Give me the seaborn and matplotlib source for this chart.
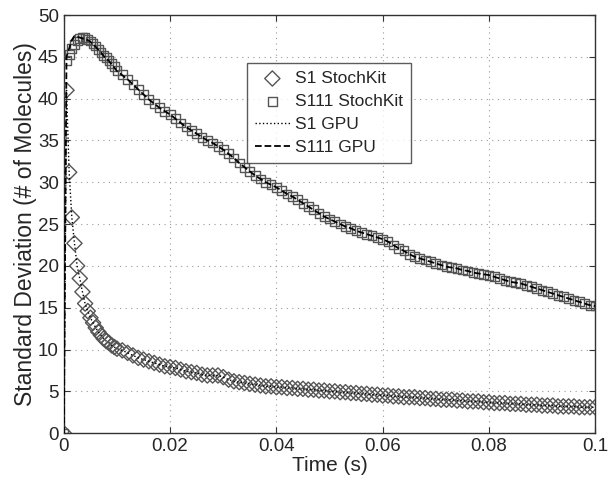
import numpy as np
import pandas as pd
import matplotlib
matplotlib.use("Agg")
import matplotlib.pyplot as plt
import seaborn as sns

# time points (s): 0.5 ms steps up to 10 ms, then 1 ms steps
time_early = [0.0000, 0.0005, 0.0010, 0.0015, 0.0020, 0.0025, 0.0030, 0.0035,
              0.0040, 0.0045, 0.0050, 0.0055, 0.0060, 0.0065, 0.0070, 0.0075,
              0.0080, 0.0085, 0.0090, 0.0095, 0.0100]
time_late = [round(0.011 + 0.001 * i, 3) for i in range(90)]
time_s = time_early + time_late

s1_stochkit = [0.0, 41.0, 31.2, 25.8, 22.7, 20.0, 18.5, 16.9, 15.5, 14.6, 13.8,
               13.2, 12.6, 12.1, 11.7, 11.3, 11.0, 10.8, 10.5, 10.3, 10.1,
               9.9, 9.6, 9.3, 9.0, 8.8, 8.6, 8.4, 8.2, 8.0, 7.9,
               7.8, 7.6, 7.4, 7.3, 7.2, 7.0, 6.9, 6.9, 6.9, 6.7,
               6.4, 6.2, 6.1, 6.0, 5.9, 5.8, 5.7, 5.6, 5.6, 5.5,
               5.5, 5.4, 5.4, 5.3, 5.3, 5.2, 5.2, 5.1, 5.1, 5.0,
               5.0, 4.9, 4.9, 4.8, 4.8, 4.7, 4.7, 4.6, 4.6, 4.5,
               4.5, 4.4, 4.4, 4.3, 4.3, 4.3, 4.2, 4.2, 4.1, 4.1,
               4.0, 4.0, 4.0, 3.9, 3.9, 3.8, 3.8, 3.8, 3.7, 3.7,
               3.6, 3.6, 3.6, 3.5, 3.5, 3.5, 3.4, 3.4, 3.4, 3.3,
               3.3, 3.3, 3.2, 3.2, 3.2, 3.2, 3.1, 3.1, 3.1, 3.1]

s111_stochkit = [0.0, 44.6, 45.3, 46.0, 46.5, 46.9, 47.2, 47.3, 47.3, 47.1, 46.9,
                 46.6, 46.3, 45.9, 45.5, 45.2, 44.9, 44.6, 44.2, 43.8, 43.4,
                 42.9, 42.3, 41.7, 41.1, 40.5, 39.9, 39.4, 38.9, 38.5, 38.1,
                 37.6, 37.1, 36.6, 36.2, 35.8, 35.4, 35.0, 34.7, 34.3, 33.9,
                 33.4, 32.9, 32.3, 31.8, 31.3, 30.8, 30.4, 30.0, 29.7, 29.4,
                 29.0, 28.6, 28.3, 27.9, 27.5, 27.1, 26.7, 26.3, 25.9, 25.6,
                 25.3, 25.0, 24.7, 24.5, 24.2, 24.0, 23.8, 23.6, 23.4, 23.2,
                 22.9, 22.5, 22.1, 21.8, 21.4, 21.1, 20.9, 20.7, 20.5, 20.3,
                 20.1, 19.9, 19.8, 19.7, 19.5, 19.4, 19.2, 19.1, 19.0, 18.9,
                 18.7, 18.5, 18.3, 18.1, 18.0, 17.9, 17.7, 17.5, 17.3, 17.1,
                 16.9, 16.7, 16.5, 16.3, 16.1, 15.9, 15.7, 15.5, 15.3, 15.2]

s1_gpu = list(s1_stochkit)
s111_gpu = [0.0, 45.0, 46.0, 47.0, 47.5, 47.4, 47.3, 47.2, 47.1, 47.0, 46.8,
            46.5, 46.2, 45.8, 45.5, 45.1, 44.8, 44.5, 44.1, 43.7, 43.3,
            42.8, 42.3, 41.7, 41.1, 40.5, 39.9, 39.4, 38.9, 38.5, 38.1,
            37.6, 37.1, 36.6, 36.2, 35.8, 35.4, 35.0, 34.7, 34.3, 33.9,
            33.4, 32.9, 32.3, 31.8, 31.3, 30.8, 30.4, 30.0, 29.7, 29.4,
            29.0, 28.6, 28.3, 27.9, 27.5, 27.1, 26.7, 26.3, 25.9, 25.6,
            25.3, 25.0, 24.7, 24.5, 24.2, 24.0, 23.8, 23.6, 23.4, 23.2,
            22.9, 22.5, 22.1, 21.8, 21.4, 21.1, 20.9, 20.7, 20.5, 20.3,
            20.1, 19.9, 19.8, 19.7, 19.5, 19.4, 19.2, 19.1, 19.0, 18.9,
            18.7, 18.5, 18.3, 18.1, 18.0, 17.9, 17.7, 17.5, 17.3, 17.1,
            16.9, 16.7, 16.5, 16.3, 16.1, 15.9, 15.7, 15.5, 15.3, 15.2]

x_ticks = [0, 0.02, 0.04, 0.06, 0.08, 0.1]
x_tick_labels = ["0", "0.02", "0.04", "0.06", "0.08", "0.1"]
y_ticks = [0, 5, 10, 15, 20, 25, 30, 35, 40, 45, 50]

df = pd.DataFrame({"t": time_s, "s1": s1_stochkit, "s111": s111_stochkit,
                   "s1g": s1_gpu, "s111g": s111_gpu})

sns.set_style("ticks")
plt.rcParams["font.family"] = ["Liberation Sans", "DejaVu Sans"]

fig = plt.figure(figsize=(6.08, 4.84), dpi=100)
ax = fig.add_axes([0.105, 0.105, 0.874, 0.864])

edge = "#555555"
sns.scatterplot(data=df, x="t", y="s1", ax=ax, marker="D", s=60,
                facecolor="none", edgecolor=edge, linewidth=1.0, zorder=3,
                label="S1 StochKit")
sns.scatterplot(data=df, x="t", y="s111", ax=ax, marker="s", s=40,
                facecolor="none", edgecolor=edge, linewidth=1.0, zorder=3,
                label="S111 StochKit")
sns.lineplot(data=df, x="t", y="s1g", ax=ax, color="black", linestyle=":",
             linewidth=1.0, zorder=4, label="S1 GPU")
sns.lineplot(data=df, x="t", y="s111g", ax=ax, color="black", linestyle="--",
             linewidth=1.3, zorder=4, label="S111 GPU")

ax.set_xlim(0, 0.1)
ax.set_ylim(0, 50)
ax.set_xticks(x_ticks)
ax.set_xticklabels(x_tick_labels)
ax.set_yticks(y_ticks)
ax.grid(True, linestyle=(0, (1, 4)), color="#999999", linewidth=0.8)
ax.tick_params(direction="in", top=True, right=True, labelsize=13.5, length=4,
               color="#333333")
for sp in ax.spines.values():
    sp.set_color("#333333")
    sp.set_linewidth(1.0)
ax.set_xlabel("Time (s)", fontsize=15, labelpad=1)
ax.set_ylabel("Standard Deviation (# of Molecules)", fontsize=16.5, labelpad=1)

leg = ax.legend(loc="upper left", bbox_to_anchor=(0.345, 0.885), fontsize=12.5,
                frameon=True, fancybox=False, edgecolor="#333333",
                borderpad=0.45, labelspacing=0.45, handlelength=2.0,
                handletextpad=0.3, borderaxespad=0)
leg.get_frame().set_linewidth(1.0)

fig.savefig("out.png", dpi=100)
